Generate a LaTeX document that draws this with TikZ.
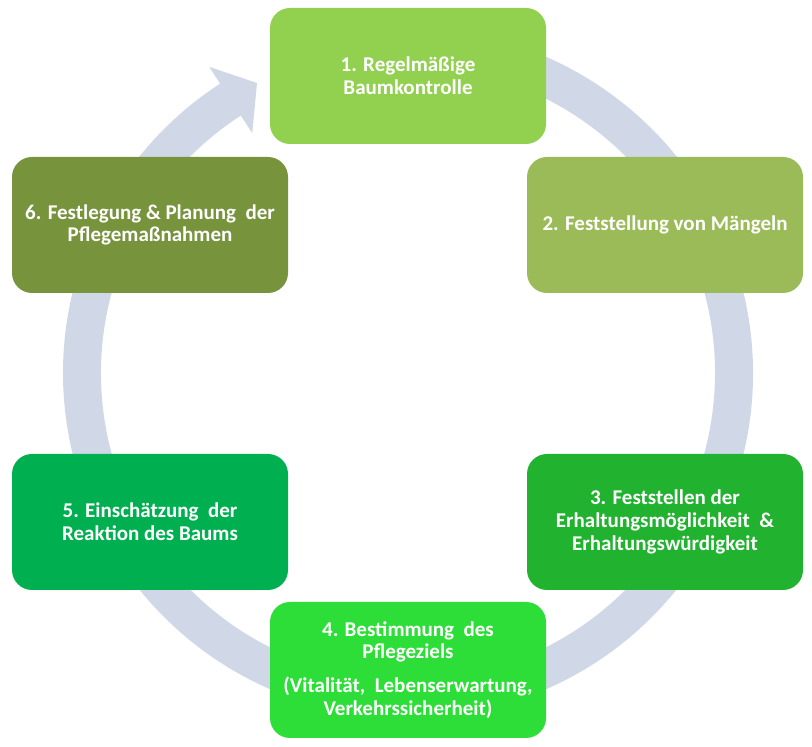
\documentclass[tikz,border=0pt]{standalone}
\usepackage{fontspec}
\setmainfont{Carlito}
\usepackage{tikz}
\usetikzlibrary{calc}

\definecolor{ringgray}{HTML}{D0D8E8}
\definecolor{stepA}{HTML}{92D050}
\definecolor{stepB}{HTML}{9BBB59}
\definecolor{stepC}{HTML}{21B22F}
\definecolor{stepD}{HTML}{2DDE38}
\definecolor{stepE}{HTML}{00B050}
\definecolor{stepF}{HTML}{77933C}

\tikzset{
    stepbox/.style={rounded corners=20pt, minimum width=276pt, minimum height=136pt,
        text=white, align=center, font=\fontsize{21}{22.7}\selectfont\bfseries}
}

\begin{document}
\begin{tikzpicture}[x=1pt,y=1pt]
        \useasboundingbox (0,0) rectangle (812,747);

        \begin{scope}[shift={(408,374)}]
            \fill[ringgray] (100:345) arc[start angle=100, end angle=-237, radius=345]
                -- (123:365) -- (117.5:327) -- (123:286) -- (123:307)
                arc[start angle=-237, end angle=100, radius=307] -- cycle;
        \end{scope}

        \node[stepbox, fill=stepA] (s1) at (408,671) {1. Regelmäßige\\Baumkontrolle};
        \node[stepbox, fill=stepB] (s2) at (665,522) {2. Feststellung von Mängeln};
        \node[stepbox, fill=stepC] (s3) at (665,225) {3. Feststellen der\\Erhaltungsmöglichkeit ~\&\\Erhaltungswürdigkeit};
        \node[stepbox, fill=stepD] (s4) at (408,77) {4. Bestimmung ~des\\Pflegeziels\\[11pt](Vitalität, ~Lebenserwartung,\\Verkehrssicherheit)};
        \node[stepbox, fill=stepE] (s5) at (150,225) {5. Einschätzung ~der\\Reaktion des Baums};
        \node[stepbox, fill=stepF] (s6) at (150,522) {6. Festlegung \& Planung ~der\\Pflegemaßnahmen};
\end{tikzpicture}
\end{document}
